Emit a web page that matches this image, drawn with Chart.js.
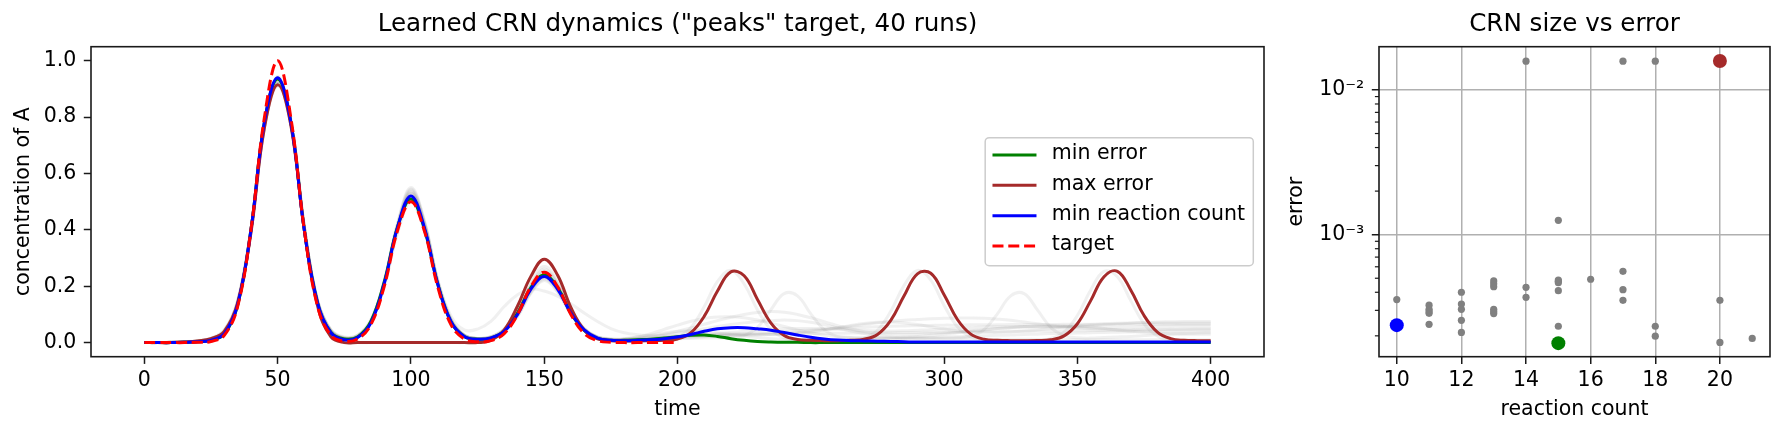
<!DOCTYPE html>
<html>
<head>
<meta charset="utf-8">
<script src="https://cdn.jsdelivr.net/npm/chart.js@4.4.1/dist/chart.umd.min.js"></script>
<style>
  html, body { margin: 0; padding: 0; background: #fff; }
  #wrap { position: relative; width: 1785px; height: 435px; }
  .pane { position: absolute; top: 0; }
  #leftPane { left: 0; }
  #rightPane { left: 1275px; }
</style>
</head>
<body>
<div id="wrap">
  <div class="pane" id="leftPane"><canvas id="dynamics" width="1275" height="435"></canvas></div>
  <div class="pane" id="rightPane"><canvas id="sizeError" width="510" height="435"></canvas></div>
</div>
<script>
// time grid of the simulated runs
const times = [0,5,10,15,20,25,30,35,40,45,50,55,60,65,70,75,80,85,90,95,
  100,105,110,115,120,125,130,135,140,145,150,155,160,165,170,175,180,185,190,195,
  200,205,210,215,220,225,230,235,240,245,250,255,260,265,270,275,280,285,290,295,
  300,305,310,315,320,325,330,335,340,345,350,355,360,365,370,375,380,385,390,395,400];

// target only defined up to t=200
const targetConc = [0,0,0,0,0.001,0.004,0.026,0.128,0.401,0.796,
  1.0,0.796,0.401,0.128,0.026,0.005,0.013,0.064,0.2,0.398,
  0.5,0.398,0.2,0.064,0.013,0.003,0.007,0.032,0.1,0.199,
  0.25,0.199,0.1,0.032,0.007,0.001,0,0,0,0,0];

const minErrorConc = [0,0,0,0.001,0.003,0.008,0.03,0.132,0.40,0.78,
  0.935,0.78,0.40,0.14,0.036,0.013,0.02,0.075,0.215,0.41,
  0.51,0.405,0.21,0.074,0.022,0.012,0.016,0.042,0.105,0.195,
  0.24,0.195,0.105,0.043,0.015,0.008,0.008,0.01,0.012,0.016,
  0.021,0.026,0.027,0.022,0.014,0.008,0.004,0.002,0.001,0.001,
  0,0,0,0,0,0,0,0,0,0,0,0,0,0,0,0,0,0,0,0,0,0,0,0,0,0,0,0,0,0,0];

const maxErrorConc = [0,0,0,0.002,0.006,0.014,0.04,0.14,0.39,0.76,
  0.915,0.77,0.40,0.13,0.02,0,0,0,0,0,
  0,0,0,0,0,0,0.008,0.045,0.13,0.235,
  0.296,0.24,0.125,0.045,0.013,0.007,0.006,0.006,0.007,0.008,
  0.013,0.035,0.093,0.183,0.251,0.237,0.153,0.07,0.025,0.011,
  0.008,0.007,0.007,0.008,0.012,0.029,0.079,0.166,0.244,0.246,
  0.17,0.082,0.03,0.012,0.008,0.007,0.007,0.0075,0.01,0.024,
  0.067,0.149,0.234,0.253,0.187,0.096,0.037,0.014,0.008,0.007,0.007];

const minReactionConc = [0,0,0,0.001,0.003,0.008,0.032,0.135,0.40,0.78,
  0.94,0.78,0.40,0.14,0.035,0.01,0.018,0.07,0.21,0.41,
  0.52,0.41,0.21,0.075,0.022,0.012,0.017,0.04,0.1,0.19,
  0.235,0.19,0.105,0.045,0.016,0.008,0.007,0.008,0.01,0.014,
  0.02,0.029,0.04,0.049,0.053,0.053,0.049,0.044,0.036,0.027,
  0.019,0.013,0.009,0.007,0.006,0.005,0.004,0.003,0.002,0.002,
  0.002,0.002,0.002,0.002,0.002,0.002,0.002,0.002,0.002,0.002,
  0.002,0.002,0.002,0.002,0.002,0.002,0.002,0.002,0.002,0.002,0.002];

// the remaining runs, drawn faint grey
const otherRuns = [
  [0,0,0,0.002,0.006,0.014,0.04,0.14,0.39,0.76,0.92,0.775,0.405,0.13,0.022,0.002,0,0,0,0,
   0,0,0,0,0,0.001,0.01,0.048,0.125,0.218,0.27,0.22,0.118,0.043,0.013,0.007,0.007,0.007,0.007,0.009,
   0.019,0.053,0.127,0.217,0.257,0.208,0.116,0.047,0.017,0.009,0.007,0.007,0.007,0.0085,0.016,0.044,0.111,0.203,0.256,0.222,
   0.132,0.056,0.02,0.009,0.007,0.007,0.007,0.008,0.014,0.037,0.096,0.187,0.253,0.234,0.149,0.067,0.024,0.01,0.0075,0.007,0.007],
  [0,0,0.001,0.002,0.005,0.012,0.038,0.14,0.40,0.768,0.925,0.778,0.41,0.145,0.04,0.015,0.022,0.074,0.206,0.405,
   0.52,0.414,0.212,0.079,0.025,0.014,0.018,0.042,0.1,0.19,0.24,0.195,0.108,0.047,0.019,0.012,0.01,0.011,0.012,0.013,
   0.014,0.015,0.016,0.016,0.017,0.025,0.054,0.116,0.174,0.166,0.102,0.046,0.022,0.017,0.016,0.016,0.016,0.016,0.016,0.016,
   0.016,0.017,0.022,0.046,0.102,0.166,0.174,0.116,0.054,0.025,0.017,0.016,0.018,0.02,0.022,0.025,0.028,0.03,0.032,0.034,0.035],
  [0,0,0.001,0.002,0.005,0.013,0.04,0.143,0.40,0.765,0.92,0.775,0.41,0.15,0.045,0.02,0.026,0.078,0.212,0.41,
   0.53,0.425,0.225,0.095,0.045,0.048,0.075,0.128,0.17,0.19,0.183,0.165,0.138,0.105,0.075,0.05,0.035,0.028,0.025,0.024,
   0.024,0.025,0.026,0.027,0.028,0.029,0.03,0.031,0.031,0.032,0.032,0.033,0.033,0.034,0.034,0.035,0.035,0.036,0.036,0.037,
   0.037,0.038,0.038,0.039,0.039,0.04,0.04,0.041,0.041,0.042,0.042,0.043,0.043,0.044,0.044,0.045,0.045,0.046,0.046,0.047,0.047],
  [0,0,0.001,0.002,0.006,0.014,0.042,0.145,0.40,0.765,0.92,0.775,0.41,0.148,0.042,0.016,0.023,0.077,0.215,0.418,
   0.54,0.428,0.22,0.082,0.026,0.014,0.017,0.04,0.096,0.182,0.23,0.187,0.104,0.046,0.018,0.011,0.012,0.016,0.022,0.03,
   0.04,0.052,0.065,0.078,0.09,0.1,0.107,0.11,0.108,0.1,0.088,0.074,0.06,0.048,0.039,0.033,0.03,0.029,0.03,0.032,
   0.035,0.038,0.042,0.046,0.05,0.053,0.055,0.056,0.056,0.055,0.054,0.053,0.053,0.054,0.055,0.057,0.058,0.059,0.06,0.06,0.06],
  [0,0,0.001,0.002,0.004,0.01,0.034,0.132,0.395,0.775,0.945,0.79,0.415,0.144,0.038,0.014,0.021,0.073,0.208,0.41,
   0.53,0.42,0.214,0.079,0.025,0.015,0.02,0.046,0.106,0.198,0.25,0.203,0.112,0.049,0.019,0.01,0.012,0.014,0.016,0.019,
   0.022,0.025,0.028,0.03,0.031,0.031,0.03,0.029,0.03,0.033,0.038,0.045,0.053,0.061,0.068,0.072,0.073,0.07,0.064,0.056,
   0.048,0.042,0.038,0.036,0.036,0.038,0.041,0.045,0.05,0.055,0.06,0.064,0.067,0.069,0.07,0.07,0.07,0.07,0.07,0.07,0.07],
  [0,0,0.001,0.003,0.007,0.016,0.045,0.15,0.405,0.76,0.91,0.77,0.41,0.15,0.045,0.018,0.026,0.082,0.222,0.425,
   0.55,0.435,0.224,0.084,0.027,0.014,0.016,0.038,0.092,0.175,0.22,0.18,0.1,0.044,0.017,0.01,0.01,0.012,0.015,0.018,
   0.02,0.022,0.023,0.024,0.025,0.026,0.027,0.029,0.032,0.036,0.041,0.046,0.052,0.058,0.064,0.07,0.075,0.079,0.082,0.085,
   0.086,0.087,0.087,0.086,0.083,0.079,0.073,0.067,0.061,0.056,0.052,0.049,0.047,0.046,0.046,0.047,0.048,0.049,0.05,0.05,0.05],
  [0,0,0.001,0.002,0.005,0.011,0.036,0.136,0.398,0.772,0.935,0.785,0.412,0.143,0.039,0.015,0.02,0.07,0.198,0.388,
   0.50,0.398,0.205,0.077,0.024,0.015,0.021,0.048,0.11,0.205,0.26,0.211,0.116,0.05,0.019,0.011,0.012,0.02,0.032,0.047,
   0.062,0.076,0.086,0.091,0.092,0.088,0.08,0.069,0.057,0.045,0.035,0.027,0.021,0.018,0.016,0.016,0.017,0.019,0.022,0.026,
   0.03,0.035,0.04,0.045,0.05,0.054,0.057,0.059,0.06,0.06,0.058,0.055,0.05,0.045,0.04,0.036,0.033,0.031,0.03,0.03,0.03],
  [0,0,0.001,0.002,0.005,0.013,0.04,0.142,0.40,0.768,0.925,0.778,0.41,0.146,0.041,0.016,0.023,0.077,0.216,0.42,
   0.545,0.432,0.222,0.083,0.026,0.014,0.017,0.041,0.098,0.186,0.235,0.191,0.106,0.046,0.018,0.01,0.01,0.011,0.012,0.014,
   0.016,0.018,0.021,0.024,0.027,0.03,0.033,0.036,0.039,0.042,0.045,0.048,0.05,0.052,0.054,0.056,0.058,0.059,0.06,0.061,
   0.062,0.062,0.063,0.063,0.063,0.064,0.064,0.064,0.064,0.065,0.065,0.065,0.065,0.065,0.065,0.065,0.065,0.065,0.065,0.065,0.065],
  [0,0,0.001,0.002,0.004,0.011,0.035,0.135,0.398,0.772,0.94,0.787,0.413,0.145,0.039,0.015,0.021,0.072,0.205,0.4,
   0.515,0.41,0.21,0.078,0.025,0.014,0.019,0.044,0.103,0.194,0.245,0.199,0.11,0.048,0.018,0.011,0.012,0.015,0.02,0.026,
   0.033,0.041,0.049,0.057,0.064,0.07,0.075,0.078,0.08,0.078,0.072,0.063,0.052,0.041,0.032,0.025,0.02,0.017,0.015,0.014,
   0.013,0.013,0.012,0.012,0.012,0.012,0.012,0.011,0.011,0.011,0.011,0.01,0.01,0.01,0.01,0.01,0.01,0.01,0.01,0.01,0.01],
  [0,0,0.001,0.002,0.005,0.012,0.039,0.14,0.40,0.77,0.93,0.78,0.41,0.145,0.04,0.015,0.022,0.076,0.212,0.415,
   0.535,0.425,0.218,0.081,0.026,0.015,0.019,0.04,0.095,0.178,0.225,0.183,0.102,0.046,0.02,0.014,0.014,0.02,0.027,0.034,
   0.04,0.042,0.04,0.035,0.029,0.023,0.018,0.014,0.012,0.011,0.01,0.01,0.01,0.011,0.012,0.013,0.014,0.015,0.017,0.018,
   0.02,0.021,0.023,0.024,0.026,0.027,0.029,0.03,0.032,0.033,0.034,0.035,0.036,0.037,0.038,0.039,0.039,0.04,0.04,0.04,0.04],
  [0,0,0.001,0.003,0.006,0.015,0.043,0.147,0.402,0.762,0.915,0.772,0.408,0.147,0.043,0.017,0.024,0.076,0.21,0.408,
   0.525,0.418,0.214,0.08,0.025,0.014,0.02,0.047,0.108,0.201,0.255,0.207,0.114,0.05,0.019,0.01,0.01,0.012,0.014,0.017,
   0.02,0.024,0.028,0.032,0.036,0.04,0.044,0.047,0.049,0.05,0.05,0.049,0.047,0.045,0.043,0.042,0.041,0.042,0.044,0.046,
   0.049,0.051,0.053,0.055,0.056,0.056,0.056,0.055,0.055,0.056,0.058,0.06,0.063,0.066,0.069,0.071,0.073,0.074,0.075,0.075,0.075]
];

const timeTicks = [0, 50, 100, 150, 200, 250, 300, 350, 400];
const concTicks = [0, 0.2, 0.4, 0.6, 0.8, 1.0];

// one point per run: reaction count and final error
const reactionCounts = [10,10,11,11,11,11,11,12,12,12,12,12,13,13,13,13,13,13,14,14,14,
  15,15,15,15,15,15,15,16,17,17,17,17,18,18,18,20,20,20,21];
const runErrors = [2.37e-4,3.56e-4,3.26e-4,3.05e-4,2.95e-4,2.86e-4,2.40e-4,4.00e-4,3.32e-4,3.05e-4,2.56e-4,2.11e-4,
  4.79e-4,4.58e-4,4.37e-4,3.05e-4,2.95e-4,2.85e-4,0.0158,4.33e-4,3.69e-4,
  1.257e-3,4.86e-4,4.76e-4,4.66e-4,4.10e-4,2.33e-4,1.78e-4,4.92e-4,0.0158,5.58e-4,4.17e-4,3.52e-4,
  0.0158,2.33e-4,1.99e-4,0.01585,3.52e-4,1.80e-4,1.92e-4];

const countTicks = [10, 12, 14, 16, 18, 20];
const errorTicks = [1e-3, 1e-2];
const errorTickLabels = ['10\u207B\u00B3', '10\u207B\u00B2'];
const minorErrorTicks = [2e-4,3e-4,4e-4,5e-4,6e-4,7e-4,8e-4,9e-4,2e-3,3e-3,4e-3,5e-3,6e-3,7e-3,8e-3,9e-3];

const FAMILY = '"DejaVu Sans", "Liberation Sans", sans-serif';
const TXT = 20.5;
const tickFont = { family: FAMILY, size: TXT, lineHeight: 1.2 };
const labelFont = { family: FAMILY, size: TXT, lineHeight: 1.2 };
const titleFont = { family: FAMILY, size: 24.6, weight: 'normal', lineHeight: 1.2 };
const LW = 3;

Chart.defaults.font.family = FAMILY;
Chart.defaults.color = '#000';

// box around the plotting area, like the axes spines
const axesFrame = {
  id: 'axesFrame',
  afterDatasetsDraw(chart) {
    const { ctx, chartArea: a } = chart;
    ctx.save();
    ctx.strokeStyle = '#1a1a1a';
    ctx.lineWidth = 1.6;
    ctx.strokeRect(a.left, a.top, a.right - a.left, a.bottom - a.top);
    ctx.restore();
  }
};

// legend drawn inside the axes, centre right
const boxLegend = {
  id: 'boxLegend',
  afterDraw(chart) {
    const { ctx, chartArea: a } = chart;
    const items = chart.data.datasets.filter(d => d.legendText);
    ctx.save();
    ctx.font = TXT + 'px ' + FAMILY;
    let textW = 0;
    items.forEach(d => { textW = Math.max(textW, ctx.measureText(d.legendText).width); });
    const w = 66.6 + textW + 8.3, h = 128;
    const left = a.right - 10.7 - w;
    const top = (a.top + a.bottom) / 2 - h / 2;
    ctx.beginPath();
    if (ctx.roundRect) ctx.roundRect(left, top, w, h, 4); else ctx.rect(left, top, w, h);
    ctx.fillStyle = 'rgba(255,255,255,0.8)';
    ctx.fill();
    ctx.strokeStyle = '#cccccc';
    ctx.lineWidth = 1.5;
    ctx.stroke();
    items.forEach((d, i) => {
      const y = top + 17.3 + i * 30.35;
      ctx.beginPath();
      ctx.setLineDash(d.borderDash || []);
      ctx.strokeStyle = d.borderColor;
      ctx.lineWidth = d.borderWidth;
      ctx.moveTo(left + 7.3, y);
      ctx.lineTo(left + 51.3, y);
      ctx.stroke();
      ctx.setLineDash([]);
      ctx.fillStyle = '#000';
      ctx.textBaseline = 'middle';
      ctx.fillText(d.legendText, left + 66.6, y - 1);
    });
    ctx.restore();
  }
};

// short minor ticks on the log axis
const minorTicks = {
  id: 'minorTicks',
  afterDatasetsDraw(chart) {
    const { ctx, chartArea: a, scales } = chart;
    ctx.save();
    ctx.strokeStyle = '#1a1a1a';
    ctx.lineWidth = 1.2;
    minorErrorTicks.forEach(v => {
      const py = scales.y.getPixelForValue(v);
      if (py < a.top || py > a.bottom) return;
      ctx.beginPath();
      ctx.moveTo(a.left - 4.1, py);
      ctx.lineTo(a.left, py);
      ctx.stroke();
    });
    ctx.restore();
  }
};

function toPoints(vals) {
  return vals.map((v, i) => ({ x: times[i], y: v }));
}

const lineDatasets = [
  { legendText: 'min error', data: toPoints(minErrorConc), borderColor: 'green', order: 3 },
  { legendText: 'max error', data: toPoints(maxErrorConc), borderColor: 'brown', order: 2 },
  { legendText: 'min reaction count', data: toPoints(minReactionConc), borderColor: 'blue', order: 1 },
  { legendText: 'target', data: toPoints(targetConc), borderColor: 'red', borderDash: [11, 4.8], order: 0 }
].concat(otherRuns.map(r => ({ data: toPoints(r), borderColor: 'rgba(128,128,128,0.12)', order: 4 })))
 .map(d => Object.assign({ borderWidth: LW, pointRadius: 0, tension: 0.4, fill: false, borderJoinStyle: 'round' }, d));

new Chart(document.getElementById('dynamics'), {
  type: 'line',
  data: { datasets: lineDatasets },
  options: {
    responsive: false,
    animation: false,
    events: [],
    layout: { padding: { left: 0, right: 11, top: 0, bottom: 0 } },
    scales: {
      x: {
        type: 'linear', min: -20, max: 420, bounds: 'data',
        afterBuildTicks: s => { s.ticks = timeTicks.map(v => ({ value: v })); },
        afterFit: s => { s.height = 78.3; },
        grid: { drawOnChartArea: false, tickLength: 7.2, tickWidth: 1.5, tickColor: '#1a1a1a' },
        border: { display: false },
        ticks: { font: tickFont, color: '#000', padding: 4.6, maxRotation: 0, autoSkip: false,
                 callback: v => String(v) },
        title: { display: true, text: 'time', font: labelFont, color: '#000', padding: { top: 0, bottom: 12.7 } }
      },
      y: {
        type: 'linear', min: -0.05, max: 1.05, bounds: 'data',
        afterBuildTicks: s => { s.ticks = concTicks.map(v => ({ value: v })); },
        afterFit: s => { s.width = 91; },
        grid: { drawOnChartArea: false, tickLength: 7.2, tickWidth: 1.5, tickColor: '#1a1a1a' },
        border: { display: false },
        ticks: { font: tickFont, color: '#000', padding: 7.5, autoSkip: false, callback: v => v.toFixed(1) },
        title: { display: true, text: 'concentration of A', font: labelFont, color: '#000', padding: { top: 11.7, bottom: 0 } }
      }
    },
    plugins: {
      legend: { display: false },
      tooltip: { enabled: false },
      title: { display: true, text: 'Learned CRN dynamics ("peaks" target, 40 runs)', font: titleFont,
               color: '#000', fullSize: false, padding: { top: 10.2, bottom: 6.98 } }
    }
  },
  plugins: [axesFrame, boxLegend]
});

// highlighted runs
function argBy(arr, better) {
  let k = 0;
  arr.forEach((v, i) => { if (better(v, arr[k])) k = i; });
  return k;
}
const runPoints = reactionCounts.map((c, i) => ({ x: c, y: runErrors[i] }));
const iMinErr = argBy(runErrors, (a, b) => a < b);
const iMaxErr = argBy(runErrors, (a, b) => a > b);
const iMinCount = argBy(reactionCounts, (a, b) => a < b);

new Chart(document.getElementById('sizeError'), {
  type: 'scatter',
  data: {
    datasets: [
      { data: runPoints, backgroundColor: 'gray', pointRadius: 3.6, order: 3 },
      { data: [runPoints[iMaxErr]], backgroundColor: 'brown', pointRadius: 7, order: 2 },
      { data: [runPoints[iMinErr]], backgroundColor: 'green', pointRadius: 7, order: 1 },
      { data: [runPoints[iMinCount]], backgroundColor: 'blue', pointRadius: 7, order: 0 }
    ].map(d => Object.assign({ pointBorderWidth: 0, pointHoverRadius: 0 }, d))
  },
  options: {
    responsive: false,
    animation: false,
    events: [],
    layout: { padding: { left: 0, right: 15, top: 0, bottom: 0 } },
    scales: {
      x: {
        type: 'linear', min: 9.45, max: 21.55, bounds: 'data',
        afterBuildTicks: s => { s.ticks = countTicks.map(v => ({ value: v })); },
        afterFit: s => { s.height = 78.3; },
        grid: { color: '#b0b0b0', lineWidth: 1.5, tickLength: 7.2, tickWidth: 1.5, tickColor: '#1a1a1a' },
        border: { display: false },
        ticks: { font: tickFont, color: '#000', padding: 4.6, maxRotation: 0, autoSkip: false,
                 callback: v => String(v) },
        title: { display: true, text: 'reaction count', font: labelFont, color: '#000', padding: { top: 0, bottom: 12.7 } }
      },
      y: {
        type: 'logarithmic', min: 1.435e-4, max: 0.0199, bounds: 'data',
        afterBuildTicks: s => { s.ticks = errorTicks.map(v => ({ value: v, major: true })); },
        afterFit: s => { s.width = 104; },
        grid: { color: '#b0b0b0', lineWidth: 1.5, tickLength: 7.2, tickWidth: 1.5, tickColor: '#1a1a1a' },
        border: { display: false },
        ticks: { font: tickFont, color: '#000', padding: 7.5, autoSkip: false,
                 callback: (v, i) => errorTickLabels[i] },
        title: { display: true, text: 'error', font: labelFont, color: '#000', padding: { top: 9.2, bottom: 0 } }
      }
    },
    plugins: {
      legend: { display: false },
      tooltip: { enabled: false },
      title: { display: true, text: 'CRN size vs error', font: titleFont, color: '#000', fullSize: false,
               padding: { top: 10.2, bottom: 6.98 } }
    }
  },
  plugins: [axesFrame, minorTicks]
});
</script>
</body>
</html>
